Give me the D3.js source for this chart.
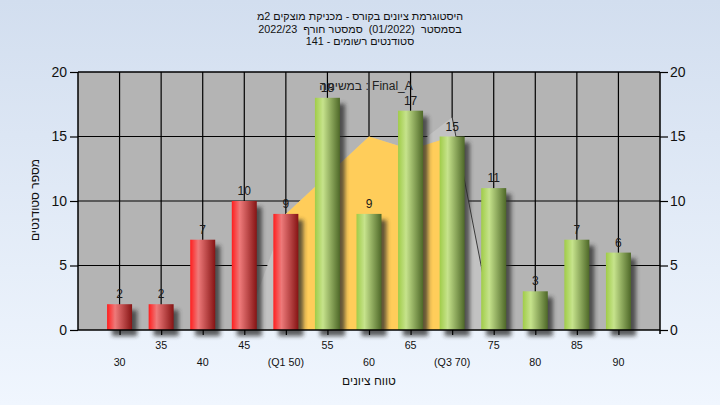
<!DOCTYPE html>
<html><head><meta charset="utf-8">
<script src="https://cdn.jsdelivr.net/npm/d3@7/dist/d3.min.js"></script>
<style>
html,body{margin:0;padding:0;}
svg{display:block;}
text{font-family:"Liberation Sans",Arial,sans-serif;}
</style></head>
<body>
<script>
const categories = ["30","35","40","45","50","55","60","65","70","75","80","85","90"];
const tickLabels = ["30","35","40","45","(Q1 50)","55","60","65","(Q3 70)","75","80","85","90"];
const counts = [2,2,7,10,9,18,9,17,15,11,3,7,6];
const failCategories = ["30","35","40","45","50"];
const iqrCats = ["50","55","60","65","70"];
const iqrValues = [9,12,15,14,15];
const outerCats = ["45","50","55","60","65","70","75"];
const outerValues = [0,9,12,15,14,16.5,0];
const yTicks = [0,5,10,15,20];
const titleLines = ["היסטוגרמת ציונים בקורס - מכניקת מוצקים 2מ","בסמסטר  (01/2022)  סמסטר חורף  2022/23","סטודנטים רשומים - 141"];
const taskLabel = "במשימה : Final_A";
const xTitle = "טווח ציונים";
const yTitle = "מספר סטודנטים";

const W = 720, H = 405;
const L = 78, R = 660, T = 72, B = 330;
const svg = d3.select("body").append("svg").attr("width", W).attr("height", H);
const defs = svg.append("defs");

const bg = defs.append("linearGradient").attr("id","bg").attr("x1",0).attr("y1",0).attr("x2",0).attr("y2",1);
bg.append("stop").attr("offset","0%").attr("stop-color","#D2DEEF");
bg.append("stop").attr("offset","100%").attr("stop-color","#F0F6FE");

const red = defs.append("linearGradient").attr("id","red").attr("x1",0).attr("y1",0).attr("x2",1).attr("y2",0);
[["0%","#FF1E1E"],["32%","#EE7A7A"],["100%","#861414"]].forEach(s=>red.append("stop").attr("offset",s[0]).attr("stop-color",s[1]));
const green = defs.append("linearGradient").attr("id","green").attr("x1",0).attr("y1",0).attr("x2",1).attr("y2",0);
[["0%","#A0CC48"],["32%","#C6E38C"],["100%","#4E6828"]].forEach(s=>green.append("stop").attr("offset",s[0]).attr("stop-color",s[1]));

const blur = defs.append("filter").attr("id","blur").attr("x","-50%").attr("y","-50%").attr("width","200%").attr("height","200%");
blur.append("feGaussianBlur").attr("stdDeviation",2);

svg.append("rect").attr("width",W).attr("height",H).attr("fill","url(#bg)");

const x = d3.scalePoint().domain(categories).range([L,R]).padding(1);
const y = d3.scaleLinear().domain([0,20]).range([B,T]);

svg.append("rect").attr("x",L).attr("y",T).attr("width",R-L).attr("height",B-T).attr("fill","#B4B4B4");

const grid = svg.append("g");
grid.selectAll("line.h").data(yTicks.filter(d=>d>0)).join("line")
  .attr("x1",L).attr("x2",R).attr("y1",d=>y(d)).attr("y2",d=>y(d)).attr("stroke","#000").attr("stroke-width",1.2);
grid.selectAll("line.v").data(categories).join("line")
  .attr("x1",d=>x(d)).attr("x2",d=>x(d)).attr("y1",T).attr("y2",B).attr("stroke","#000").attr("stroke-width",1.2);

const area = d3.area().x(d=>x(d.c)).y0(y(0)).y1(d=>y(d.v));
svg.append("path").datum(outerCats.map((c,i)=>({c,v:outerValues[i]})))
  .attr("d",area).attr("fill","#C2C2C2");
svg.append("path").datum(iqrCats.map((c,i)=>({c,v:iqrValues[i]})))
  .attr("d",area).attr("fill","#FFCD5A");
const lastSeg = outerCats.slice(-2).map((c,i)=>({c,v:outerValues[outerCats.length-2+i]}));
svg.append("path").datum(lastSeg).attr("d",d3.line().x(d=>x(d.c)).y(d=>y(d.v)))
  .attr("fill","none").attr("stroke","#3a3a3a").attr("stroke-width",1);

const bw = 25;
const data = categories.map((c,i)=>({c,v:counts[i],fail:failCategories.includes(c)}));
svg.append("g").selectAll("rect").data(data).join("rect")
  .attr("x",d=>x(d.c)-bw/2+5).attr("y",d=>y(d.v)+6).attr("width",bw).attr("height",d=>y(0)-y(d.v))
  .attr("fill","#2a2a2a").attr("opacity",0.75).attr("filter","url(#blur)");
svg.append("g").selectAll("rect").data(data).join("rect")
  .attr("x",d=>x(d.c)-bw/2).attr("y",d=>y(d.v)).attr("width",bw).attr("height",d=>y(0)-y(d.v))
  .attr("fill",d=>d.fail?"url(#red)":"url(#green)");

svg.append("line").attr("x1",L).attr("x2",R).attr("y1",T).attr("y2",T).attr("stroke","#000").attr("stroke-width",1.2);
svg.append("line").attr("x1",L).attr("x2",L).attr("y1",T).attr("y2",B).attr("stroke","#000").attr("stroke-width",1.5);
svg.append("line").attr("x1",R).attr("x2",R).attr("y1",T).attr("y2",B+4).attr("stroke","#000").attr("stroke-width",1.5);

const xAxis = svg.append("g").attr("transform",`translate(0,${B})`)
  .call(d3.axisBottom(x).tickSize(5).tickFormat(""));
xAxis.select(".domain").attr("d",`M${L},0H${R}`).attr("stroke","#000").attr("stroke-width",1.5);
xAxis.selectAll(".tick line").attr("stroke","#000").attr("stroke-width",1.2);
svg.append("g").selectAll("text").data(categories).join("text")
  .attr("x",d=>x(d)).attr("y",(d,i)=> i%2===0 ? 366 : 349)
  .attr("text-anchor","middle").attr("font-size",10.7).attr("fill","#111")
  .text((d,i)=>tickLabels[i]);

const yl = svg.append("g").attr("transform",`translate(${L},0)`)
  .call(d3.axisLeft(y).tickValues(yTicks).tickSize(8).tickPadding(3));
const yr = svg.append("g").attr("transform",`translate(${R},0)`)
  .call(d3.axisRight(y).tickValues(yTicks).tickSize(8).tickPadding(2));
[yl,yr].forEach(g=>{
  g.select(".domain").remove();
  g.selectAll(".tick line").attr("stroke","#000").attr("stroke-width",1.2);
  g.selectAll(".tick text").attr("font-size",14).attr("fill","#111").attr("font-family","'Liberation Sans',Arial,sans-serif");
});

svg.append("g").selectAll("text").data(data).join("text")
  .attr("x",d=>x(d.c)).attr("y",d=>y(d.v)-6)
  .attr("text-anchor","middle").attr("font-size",12).attr("fill","#1a1a1a").text(d=>d.v);

svg.append("text").attr("x",366).attr("y",90).attr("text-anchor","middle")
  .attr("font-size",12).attr("fill","#222").text(taskLabel);

svg.append("g").selectAll("text").data(titleLines).join("text")
  .attr("x",360).attr("y",(d,i)=>20+i*12.5).attr("text-anchor","middle")
  .style("white-space","pre")
  .attr("font-size",10.8).attr("fill","#111").text(d=>d);

svg.append("text").attr("x",369).attr("y",385).attr("text-anchor","middle")
  .attr("font-size",12).attr("fill","#111").text(xTitle);
svg.append("text").attr("transform","translate(38.5,200) rotate(-90)").attr("text-anchor","middle")
  .attr("font-size",12).attr("fill","#111").text(yTitle);
</script>
</body></html>
